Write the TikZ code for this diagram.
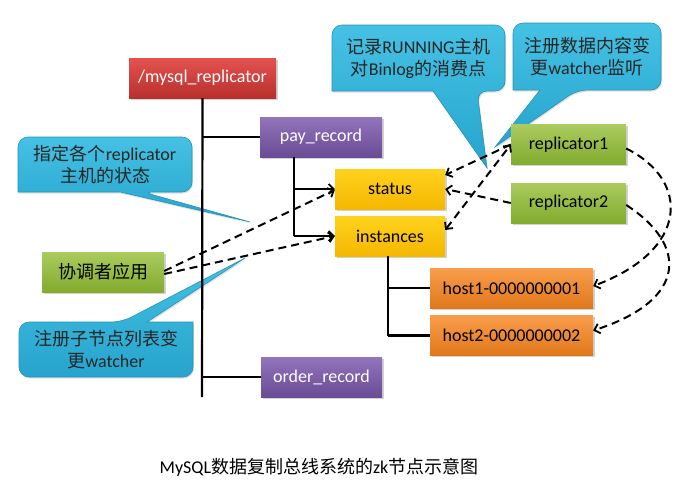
\documentclass[tikz,border=0pt]{standalone}
\usepackage{fontspec}
\setmainfont{Carlito}
\newfontfamily\zh{Noto Sans CJK SC}
\usetikzlibrary{arrows.meta,shadows}
\definecolor{redT}{HTML}{E4524F}
\definecolor{redB}{HTML}{B8302D}
\definecolor{purT}{HTML}{9275BC}
\definecolor{purB}{HTML}{6A4B95}
\definecolor{yelT}{HTML}{FFD21E}
\definecolor{yelB}{HTML}{F5B700}
\definecolor{grnT}{HTML}{AACB5E}
\definecolor{grnB}{HTML}{83AB2E}
\definecolor{orgT}{HTML}{FA9D4C}
\definecolor{orgB}{HTML}{E0781A}
\definecolor{calT}{HTML}{44C1E3}
\definecolor{calB}{HTML}{27A4CD}
\definecolor{calD}{HTML}{2893B5}
\begin{document}
\begin{tikzpicture}[x=1pt,y=-1pt,
  txt/.style={font=\fontsize{18pt}{22pt}\selectfont},
  zbox/.style={txt,inner sep=0pt,minimum height=40pt,
    drop shadow={opacity=.35,shadow xshift=1.5pt,shadow yshift=-1.5pt}},
  redbox/.style={zbox,top color=redT,bottom color=redB,text=white},
  purbox/.style={zbox,top color=purT,bottom color=purB,text=white},
  yelbox/.style={zbox,top color=yelT,bottom color=yelB,text=black},
  grnbox/.style={zbox,top color=grnT,bottom color=grnB,text=black},
  orgbox/.style={zbox,top color=orgT,bottom color=orgB,text=black},
  callshape/.style={top color=calT,bottom color=calB,draw=calD,line width=.6pt,
    drop shadow={opacity=.25,shadow xshift=1pt,shadow yshift=-1.5pt}},
  calltext/.style={txt,align=center,inner sep=0pt,text=black!85},
  treeline/.style={line width=2.2pt},
  treearrow/.style={line width=2.2pt,-{Straight Barb[length=5pt,width=10pt,line width=1.8pt]}},
  dashline/.style={line width=2pt,dash pattern=on 8pt off 5pt},
  dasharrow/.style={dashline,-{Straight Barb[length=5pt,width=10pt,line width=1.8pt]}},
  dashboth/.style={dashline,{Straight Barb[length=5pt,width=10pt,line width=1.8pt]}-{Straight Barb[length=5pt,width=10pt,line width=1.8pt]}}
]
\useasboundingbox (0,0) rectangle (687,490);
\fill[white] (0,0) rectangle (687,490);

% callouts
\path[callshape] (105,137) [rounded corners=10pt] -- (192,137) -- (192,192) -- (143,192)
  [sharp corners] -- (250,222) -- (120,192) -- (18,192) [rounded corners=10pt] -- (18,137) -- cycle;
\node[calltext] (c1) at (105,164.5) {{\zh 指定各个}replicator\\{\zh 主机的状态}};

\path[callshape] (106,377) [rounded corners=10pt] -- (19,377) -- (19,322) -- (122,322)
  [sharp corners] -- (245,258) -- (147,322) -- (193,322) [rounded corners=10pt] -- (193,377) -- cycle;
\node[calltext] (c2) at (106,349.5) {{\zh 注册子节点列表变}\\{\zh 更}watcher};

\path[callshape] (418,25) [rounded corners=10pt] -- (505,25) -- (505,91) -- (477,91)
  [sharp corners] -- (487,168) -- (433,91) -- (332,91) [rounded corners=10pt] -- (332,25) -- cycle;
\node[calltext] (c3) at (418.5,58) {{\zh 记录}RUNNING{\zh 主机}\\{\zh 对}Binlog{\zh 的消费点}};

\path[callshape] (587,23) [rounded corners=10pt] -- (661,23) -- (661,90) -- (577,90)
  [sharp corners] -- (495,147) -- (540,90) -- (513,90) [rounded corners=10pt] -- (513,23) -- cycle;
\node[calltext] (c4) at (587,56.5) {{\zh 注册数据内容变}\\{\zh 更}watcher{\zh 监听}};

% boxes
\node[redbox,minimum width=147pt] (root) at (202.5,78) {/mysql\_replicator};
\node[purbox,minimum width=122pt] (pay) at (321,137) {pay\_record};
\node[yelbox,minimum width=110pt] (status) at (390,189) {status};
\node[yelbox,minimum width=110pt] (inst) at (390,236) {instances};
\node[grnbox,minimum width=115pt] (rep1) at (568.5,144.5) {replicator1};
\node[grnbox,minimum width=115pt] (rep2) at (568.5,203) {replicator2};
\node[orgbox,minimum width=163pt] (host1) at (511.5,288) {host1-0000000001};
\node[orgbox,minimum width=163pt] (host2) at (511.5,335.5) {host2-0000000002};
\node[purbox,minimum width=121pt] (order) at (321.5,377) {order\_record};
\node[grnbox,minimum width=122pt] (xie) at (103,272) {\zh 协调者应用};

% tree
\coordinate (trunkend) at (202,397);
\draw[treeline] (root.south) -- (trunkend);
\draw[treeline] (root.south |- pay.west) -- (pay.west);
\draw[treeline] (root.south |- order.west) -- (order.west);
\coordinate (pb) at ([xshift=34pt]pay.south west);
\draw[treeline] (pb) -- (pb |- inst.west);
\draw[treearrow] (pb |- status.west) -- (status.west);
\draw[treearrow] (pb |- inst.west) -- (inst.west);
\coordinate (ib) at ([xshift=53pt]inst.south west);
\draw[treeline] (ib) -- (ib |- host2.west);
\draw[treeline] (ib |- host1.west) -- (host1.west);
\draw[treeline] (ib |- host2.west) -- (host2.west);

% dashed connectors
\draw[dasharrow] ([yshift=1pt]xie.east) -- ([yshift=-1pt]status.west);
\draw[dasharrow] ([yshift=-2pt]xie.east) -- (inst.west);
\draw[dasharrow] (rep1.west) -- ([yshift=14pt]status.east);
\draw[dasharrow] (rep2.west) -- (status.east);
\draw[dashboth] ([yshift=6pt]inst.east) -- (rep1.west);
\draw[dasharrow] ([yshift=-4pt]rep1.east) .. controls (690,180) and (690,250) .. ([yshift=2pt]host1.east);
\draw[dasharrow] ([yshift=-2pt]rep2.east) .. controls (688,245) and (688,300) .. ([yshift=5pt]host2.east);

% caption
\node[txt,inner sep=0pt] (cap) at (319,467) {MySQL{\zh 数据复制总线系统的}zk{\zh 节点示意图}};
\end{tikzpicture}
\end{document}
